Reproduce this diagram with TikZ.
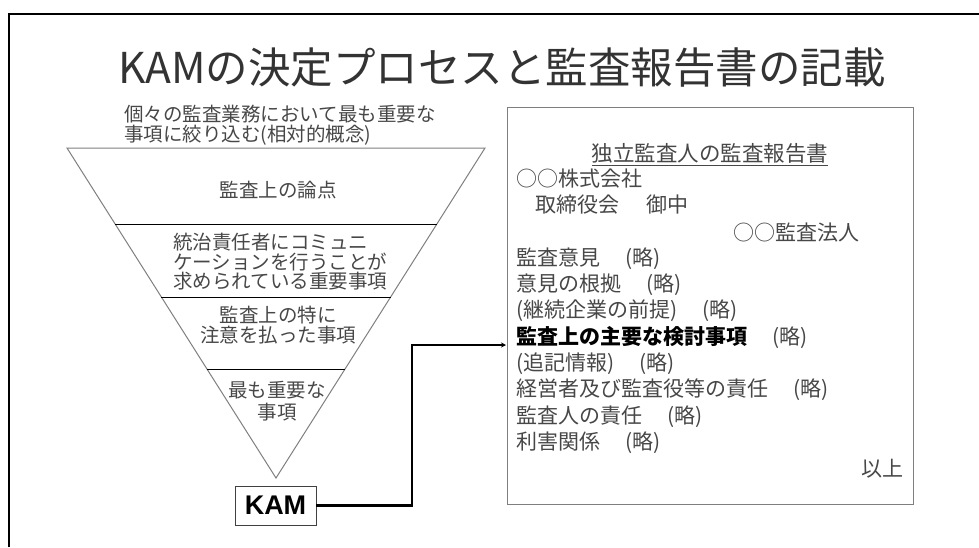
\documentclass[tikz,border=0pt]{standalone}
\usepackage{fontspec}
\newfontfamily\jp{Noto Sans CJK JP}
\newfontfamily\arialf{Liberation Sans}
\usetikzlibrary{calc,arrows.meta}
\definecolor{txtgray}{HTML}{474747}
\definecolor{edgegray}{HTML}{7F7F7F}
\newcommand\zgap{\hspace*{1.2em}}
\tikzset{
  jptext/.style={inner sep=0pt, text=txtgray, text height=0.88em, text depth=0.12em},
  boxline/.style={jptext, anchor=west, font=\jp\fontsize{21}{26}\selectfont},
  trifont/.style={inner sep=0pt, text=txtgray, font=\jp\fontsize{19.5}{20.5}\selectfont},
  divider/.style={draw=black, line width=0.8pt},
  conn/.style={draw=black, line width=2.6pt, -{Stealth[length=5pt,width=5pt]}},
}
\begin{document}
\begin{tikzpicture}[x=1pt,y=-1pt]
\useasboundingbox (0,0) rectangle (979,547);
% outer frame (top and left)
\draw[line width=2pt] (9,547) -- (9,14) -- (979,14);
% title
\node[inner sep=0pt, anchor=base, text=black!80, font=\jp\fontsize{42.5}{42.5}\selectfont] (title) at (502,83) {KAMの決定プロセスと監査報告書の記載};
% funnel
\coordinate (tl) at (67,148);
\coordinate (tr) at (485,148);
\coordinate (apex) at (276,478);
\draw[edgegray, line width=1pt] (tl) -- (tr) -- (apex) -- cycle;
\draw[divider] ($(tl)!0.2303!(apex)$) -- ($(tr)!0.2303!(apex)$);
\draw[divider] ($(tl)!0.4515!(apex)$) -- ($(tr)!0.4515!(apex)$);
\draw[divider] ($(tl)!0.6697!(apex)$) -- ($(tr)!0.6697!(apex)$);
\node[trifont, anchor=west, align=left, font=\jp\fontsize{19.5}{19.5}\selectfont] (scope) at (124,125) {個々の監査業務において最も重要な\\事項に絞り込む(相対的概念)};
\node[trifont] (l1) at (278,190) {監査上の論点};
\node[trifont, anchor=west, align=left, font=\jp\fontsize{19.5}{19.5}\selectfont] (l2) at (173,262) {統治責任者にコミュニ\\ケーションを行うことが\\求められている重要事項};
\node[trifont, align=center] (l3) at (278,325) {監査上の特に\\注意を払った事項};
\node[trifont, align=center, font=\jp\fontsize{19.5}{22}\selectfont] (l4) at (277,401) {最も重要な\\事項};
% KAM box
\node[draw=black!75, line width=0.8pt, minimum width=81pt, minimum height=39pt, inner sep=0pt, font=\arialf\bfseries\fontsize{27}{27}\selectfont] (kam) at (275.5,505.5) {KAM};
% report box
\draw[edgegray, line width=1pt] (507,107) rectangle (913,504);
\node[jptext, anchor=base, font=\jp\fontsize{21.5}{26}\selectfont] (hdr) at (710,161) {独立監査人の監査報告書};
\draw[txtgray, line width=0.8pt] ([yshift=-4pt]hdr.base west) -- ([yshift=-4pt]hdr.base east);
\node[boxline] (r1) at (516,183) {○○株式会社};
\node[boxline] (r2) at (535,209) {取締役会\hspace*{1.3em}御中};
\node[boxline] (r3) at (733,237) {○○監査法人};
\node[boxline] (r4) at (516,262) {監査意見\zgap(略)};
\node[boxline] (r5) at (516,288) {意見の根拠\zgap(略)};
\node[boxline] (r6) at (516,314) {(継続企業の前提)\zgap(略)};
\node[boxline] (r7) at (516,341) {{\color{black}\bfseries 監査上の主要な検討事項}\zgap(略)};
\node[boxline] (r8) at (516,367) {(追記情報)\zgap(略)};
\node[boxline] (r9) at (516,393) {経営者及び監査役等の責任\zgap(略)};
\node[boxline] (r10) at (516,420) {監査人の責任\zgap(略)};
\node[boxline] (r11) at (516,446) {利害関係\zgap(略)};
\node[boxline, anchor=east] (r12) at (904,473) {以上};
% connector
\coordinate (bend) at (412,345);
\coordinate (tgt) at (506,345);
\draw[conn] (kam.east) -| (bend) -- (tgt);
\end{tikzpicture}
\end{document}
